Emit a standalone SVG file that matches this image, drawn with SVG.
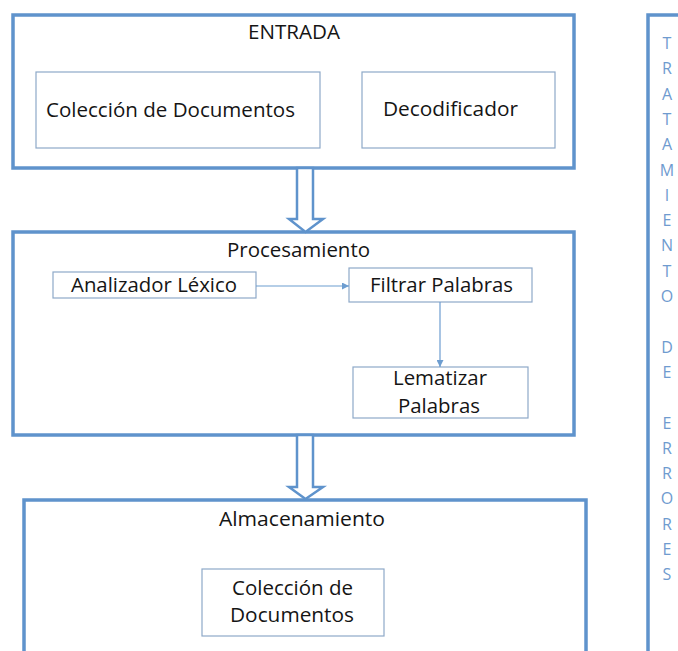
<svg xmlns="http://www.w3.org/2000/svg" width="678" height="651" viewBox="0 0 678 651">
<style>
.outer{fill:none;stroke:#5f93cc;stroke-width:3.5}
.inner{fill:#fff;stroke:#8ea9c8;stroke-width:1.2}
.t{font-family:"Open Sans","Noto Sans",sans-serif;font-size:20px;fill:#151515}
.v{font-family:"Open Sans","Noto Sans",sans-serif;font-size:16px;fill:#6f9bcf;text-anchor:middle}
.conn{fill:none;stroke:#6d9dd0;stroke-width:1.2}
.hollow{fill:#fff;stroke:#5f93cc;stroke-width:2.5;stroke-linejoin:miter}
</style>
<defs>
<marker id="ah" viewBox="0 0 10 10" refX="10" refY="5" markerWidth="7" markerHeight="7" markerUnits="userSpaceOnUse" orient="auto">
<path d="M0,0 L10,5 L0,10 z" fill="#6d9dd0"/>
</marker>
</defs>
<rect width="678" height="651" fill="#fff"/>

<g id="entrada">
<rect class="outer" x="13" y="15" width="561" height="153"/>
<text class="t" x="294" y="39" text-anchor="middle" textLength="92" lengthAdjust="spacingAndGlyphs">ENTRADA</text>
</g>
<g id="coleccion-entrada">
<rect class="inner" x="36" y="72" width="284" height="76"/>
<text class="t" x="46" y="117" textLength="249" lengthAdjust="spacingAndGlyphs">Colección de Documentos</text>
</g>
<g id="decodificador">
<rect class="inner" x="362" y="72" width="193" height="76"/>
<text class="t" x="450.5" y="116" text-anchor="middle" textLength="135" lengthAdjust="spacingAndGlyphs">Decodificador</text>
</g>

<g id="procesamiento">
<rect class="outer" x="13" y="232" width="561" height="203"/>
<text class="t" x="298.5" y="257" text-anchor="middle" textLength="143" lengthAdjust="spacingAndGlyphs">Procesamiento</text>
</g>
<g id="analizador">
<rect class="inner" x="53" y="272" width="203" height="26"/>
<text class="t" x="154" y="292" text-anchor="middle" textLength="166" lengthAdjust="spacingAndGlyphs">Analizador Léxico</text>
</g>
<g id="filtrar">
<rect class="inner" x="349" y="268" width="183" height="34"/>
<text class="t" x="441.5" y="292" text-anchor="middle" textLength="143" lengthAdjust="spacingAndGlyphs">Filtrar Palabras</text>
</g>
<g id="lematizar">
<rect class="inner" x="353" y="367" width="175" height="51"/>
<text class="t" x="440" y="385" text-anchor="middle" textLength="94" lengthAdjust="spacingAndGlyphs">Lematizar</text>
<text class="t" x="439" y="413" text-anchor="middle" textLength="82" lengthAdjust="spacingAndGlyphs">Palabras</text>
</g>

<g id="almacenamiento">
<rect class="outer" x="24" y="500" width="562" height="200"/>
<text class="t" x="302" y="526" text-anchor="middle" textLength="166" lengthAdjust="spacingAndGlyphs">Almacenamiento</text>
</g>
<g id="coleccion-almacen">
<rect class="inner" x="202" y="569" width="182" height="67"/>
<text class="t" x="292.5" y="595" text-anchor="middle" textLength="121" lengthAdjust="spacingAndGlyphs">Colección de</text>
<text class="t" x="292" y="622" text-anchor="middle" textLength="124" lengthAdjust="spacingAndGlyphs">Documentos</text>
</g>

<g id="tratamiento">
<rect class="outer" x="648" y="15" width="100" height="700"/>
<text class="v" x="667" y="49">T</text>
<text class="v" x="667" y="74.3">R</text>
<text class="v" x="667" y="99.6">A</text>
<text class="v" x="667" y="124.9">T</text>
<text class="v" x="667" y="150.2">A</text>
<text class="v" x="667" y="175.5">M</text>
<text class="v" x="667" y="200.8">I</text>
<text class="v" x="667" y="226.1">E</text>
<text class="v" x="667" y="251.4">N</text>
<text class="v" x="667" y="276.7">T</text>
<text class="v" x="667" y="302">O</text>
<text class="v" x="667" y="352.6">D</text>
<text class="v" x="667" y="377.9">E</text>
<text class="v" x="667" y="428.5">E</text>
<text class="v" x="667" y="453.8">R</text>
<text class="v" x="667" y="479.1">R</text>
<text class="v" x="667" y="504.4">O</text>
<text class="v" x="667" y="529.7">R</text>
<text class="v" x="667" y="555">E</text>
<text class="v" x="667" y="580.3">S</text>
</g>

<g id="connectors">
<polygon class="hollow" points="297,168 313,168 313,219 323,219 305.5,232 289,219 297,219"/>
<polygon class="hollow" points="297,435 313,435 313,487 323,487 305.5,499 289,487 297,487"/>
<line class="conn" x1="256" y1="286" x2="349" y2="286" marker-end="url(#ah)"/>
<line class="conn" x1="440" y1="302" x2="440" y2="367" marker-end="url(#ah)"/>
</g>
</svg>
